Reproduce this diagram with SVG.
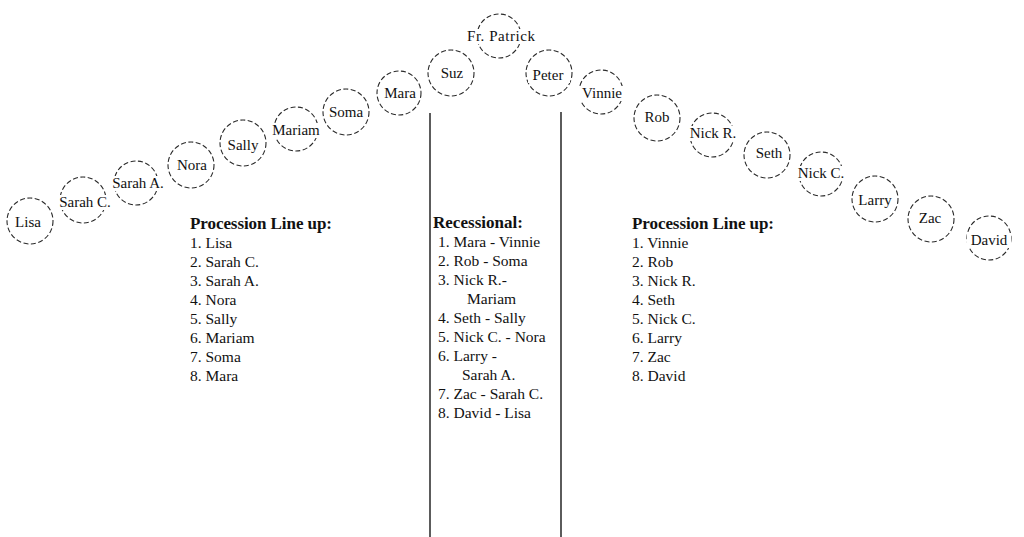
<svg xmlns="http://www.w3.org/2000/svg" width="1024" height="537" viewBox="0 0 1024 537">
<style>
.c{fill:none;stroke:#2a2a2a;stroke-width:1.1;stroke-dasharray:5 2.5}
.t{font-family:"Liberation Serif","Times New Roman",serif;font-size:15px;fill:#111;text-anchor:middle}
.l{font-family:"Liberation Serif","Times New Roman",serif;font-size:15.5px;fill:#111}
.h{font-family:"Liberation Serif","Times New Roman",serif;font-size:17px;font-weight:bold;fill:#111}
.m{fill:#fff}
.v{stroke:#333;stroke-width:1.6}
</style>
<rect width="1024" height="537" fill="#fff"/>
<g id="connectors">
<line class="v" x1="430" y1="113" x2="430" y2="537"/>
<line class="v" x1="561" y1="112" x2="561" y2="537"/>
</g>
<g id="lisa"><circle class="c" cx="30" cy="221" r="23"/><text class="t" x="28" y="227">Lisa</text></g>
<g id="sarahc"><circle class="c" cx="83" cy="200" r="23"/><rect class="m" x="58" y="195" width="55" height="15"/><text class="t" x="85" y="207">Sarah C.</text></g>
<g id="saraha"><circle class="c" cx="136" cy="183" r="22"/><rect class="m" x="111" y="176" width="56" height="15"/><text class="t" x="138" y="188">Sarah A.</text></g>
<g id="nora"><circle class="c" cx="191" cy="165" r="23"/><text class="t" x="192" y="170">Nora</text></g>
<g id="sally"><circle class="c" cx="243" cy="143" r="23"/><text class="t" x="243" y="150">Sally</text></g>
<g id="mariam"><circle class="c" cx="296" cy="129" r="22"/><rect class="m" x="271" y="123" width="51" height="15"/><text class="t" x="296" y="135">Mariam</text></g>
<g id="soma"><circle class="c" cx="346" cy="112" r="23"/><text class="t" x="346" y="117">Soma</text></g>
<g id="mara"><circle class="c" cx="399" cy="93" r="22"/><text class="t" x="400" y="98">Mara</text></g>
<g id="suz"><circle class="c" cx="451" cy="73" r="23"/><text class="t" x="452" y="78">Suz</text></g>
<g id="frpatrick"><circle class="c" cx="499" cy="36" r="22"/><rect class="m" x="465" y="29" width="72" height="15"/><text class="t" x="501" y="41" textLength="68">Fr. Patrick</text></g>
<g id="peter"><circle class="c" cx="549" cy="73" r="23"/><rect class="m" x="528" y="67" width="42" height="16"/><text class="t" x="548" y="80">Peter</text></g>
<g id="vinnie"><circle class="c" cx="601" cy="92" r="22"/><rect class="m" x="578" y="86" width="47" height="15"/><text class="t" x="602" y="98">Vinnie</text></g>
<g id="rob"><circle class="c" cx="657" cy="118" r="23"/><text class="t" x="657" y="122">Rob</text></g>
<g id="nickr"><circle class="c" cx="712" cy="135" r="22"/><rect class="m" x="688" y="126" width="51" height="15"/><text class="t" x="713" y="138">Nick R.</text></g>
<g id="seth"><circle class="c" cx="767" cy="155" r="23"/><text class="t" x="769" y="158">Seth</text></g>
<g id="nickc"><circle class="c" cx="821" cy="174" r="22"/><rect class="m" x="796" y="166" width="51" height="15"/><text class="t" x="821" y="178">Nick C.</text></g>
<g id="larry"><circle class="c" cx="875" cy="199" r="23"/><text class="t" x="875" y="205">Larry</text></g>
<g id="zac"><circle class="c" cx="931" cy="219" r="23"/><text class="t" x="930" y="223">Zac</text></g>
<g id="david"><circle class="c" cx="989" cy="238" r="22"/><rect class="m" x="967" y="233" width="44" height="15"/><text class="t" x="989" y="245">David</text></g>
<g id="left-list">
<text class="h" x="190" y="229" textLength="142">Procession Line up:</text>
<text class="l" x="190" y="248">1. Lisa</text>
<text class="l" x="190" y="267">2. Sarah C.</text>
<text class="l" x="190" y="286">3. Sarah A.</text>
<text class="l" x="190" y="305">4. Nora</text>
<text class="l" x="190" y="324">5. Sally</text>
<text class="l" x="190" y="343">6. Mariam</text>
<text class="l" x="190" y="362">7. Soma</text>
<text class="l" x="190" y="381">8. Mara</text>
</g>
<g id="recessional">
<text class="h" x="433" y="228" textLength="90">Recessional:</text>
<text class="l" x="438" y="247">1. Mara - Vinnie</text>
<text class="l" x="438" y="266">2. Rob - Soma</text>
<text class="l" x="438" y="285">3. Nick R.-</text>
<text class="l" x="467" y="304">Mariam</text>
<text class="l" x="438" y="323">4. Seth - Sally</text>
<text class="l" x="438" y="342">5. Nick C. - Nora</text>
<text class="l" x="438" y="361">6. Larry -</text>
<text class="l" x="462" y="380">Sarah A.</text>
<text class="l" x="438" y="399">7. Zac - Sarah C.</text>
<text class="l" x="438" y="418">8. David - Lisa</text>
</g>
<g id="right-list">
<text class="h" x="632" y="229" textLength="142">Procession Line up:</text>
<text class="l" x="632" y="248">1. Vinnie</text>
<text class="l" x="632" y="267">2. Rob</text>
<text class="l" x="632" y="286">3. Nick R.</text>
<text class="l" x="632" y="305">4. Seth</text>
<text class="l" x="632" y="324">5. Nick C.</text>
<text class="l" x="632" y="343">6. Larry</text>
<text class="l" x="632" y="362">7. Zac</text>
<text class="l" x="632" y="381">8. David</text>
</g>
</svg>
